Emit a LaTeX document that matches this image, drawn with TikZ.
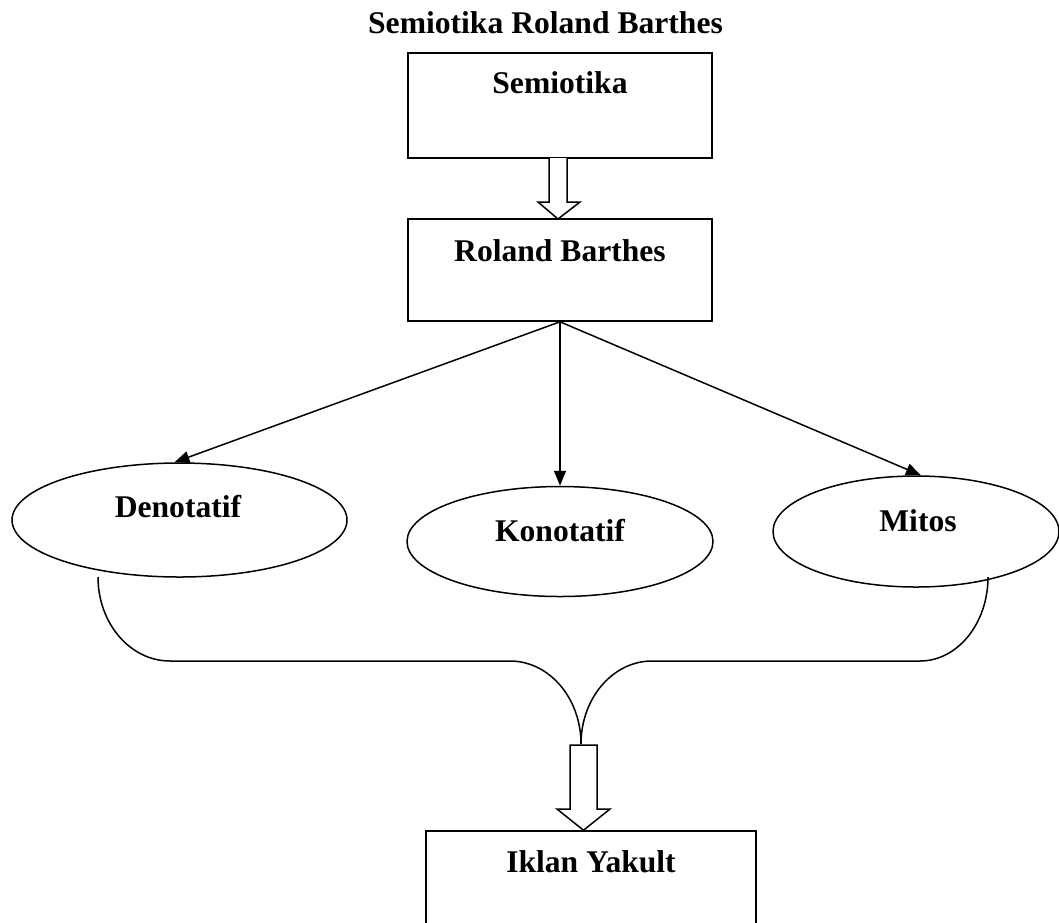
\documentclass[tikz,border=0pt]{standalone}
\usepackage{fontspec}
\setmainfont{Liberation Serif}
\usetikzlibrary{shapes.geometric,arrows.meta,calc}
\begin{document}
\begin{tikzpicture}[x=1pt,y=1pt,
  txt/.style={font=\fontsize{31.6}{38}\selectfont\bfseries},
  box/.style={draw,line width=1.6pt,rectangle,inner sep=0pt,minimum width=304pt,anchor=base,txt},
  oval/.style={draw,line width=1.5pt,ellipse,inner sep=0pt},
  lbl/.style={anchor=base,inner sep=0pt,txt},
  conn/.style={line width=1.5pt,-{Triangle[length=15pt,width=12pt]}},
  blockarrow/.style={draw,line width=1.5pt,fill=white,line join=miter},
  brace/.style={line width=1.5pt}]
\useasboundingbox (0,0) rectangle (1059,-922);
\clip (0,0) rectangle (1059,-922);
% title
\node[lbl] (title) at (545.5,-33) {Semiotika Roland Barthes};
% boxes
\node[box,text height=40pt,text depth=65pt] (S) at (560,-93) {Semiotika};
\node[box,text height=42pt,text depth=60pt] (RB) at (560,-261) {Roland Barthes};
\node[box,minimum width=330pt,text height=41pt,text depth=70pt] (IY) at (591,-872) {Iklan Yakult};
% ellipses
\node[oval,minimum width=335pt,minimum height=114pt] (D) at (179.5,-520) {};
\node[oval,minimum width=306pt,minimum height=110pt] (K) at (560,-541.5) {};
\node[oval,minimum width=286pt,minimum height=111pt] (M) at (916,-531.5) {};
\node[lbl] (Dt) at (178,-517) {Denotatif};
\node[lbl] (Kt) at (560,-541) {Konotatif};
\node[lbl] (Mt) at (918,-531) {Mitos};
% connectors
\draw[conn] (RB.south) -- (D.95);
\draw[conn] (RB.south) -- (K.north);
\draw[conn] (RB.south) -- (M.85);
% block arrow 1
\coordinate (a1) at (558,-158);
\coordinate (b1) at (558,-219);
\draw[blockarrow] ($(a1)+(-9,0)$) -- ($(a1)+(-9,-44)$) -- ($(a1)+(-20,-44)$) -- (b1)
  -- ($(a1)+(22,-44)$) -- ($(a1)+(9,-44)$) -- ($(a1)+(9,0)$);
% brace
\coordinate (bl) at (98,-577);
\coordinate (br) at (988,-577);
\coordinate (bm) at (581,-744);
\draw[brace] (bl) arc[start angle=180,end angle=270,x radius=72,y radius=84]
  -- (510,-661) arc[start angle=90,end angle=0,x radius=71,y radius=83];
\draw[brace] (br) arc[start angle=0,end angle=-90,x radius=68,y radius=84]
  -- (652,-661) arc[start angle=90,end angle=180,x radius=71,y radius=83];
% block arrow 2
\coordinate (a2) at (583.5,-745);
\draw[blockarrow] ($(a2)+(-13.5,0)$) -- ($(a2)+(-13.5,-64)$) -- ($(a2)+(-26.5,-64)$) -- (IY.north -| a2)
  -- ($(a2)+(26.5,-64)$) -- ($(a2)+(13.5,-64)$) -- ($(a2)+(13.5,0)$) -- cycle;
\end{tikzpicture}
\end{document}
